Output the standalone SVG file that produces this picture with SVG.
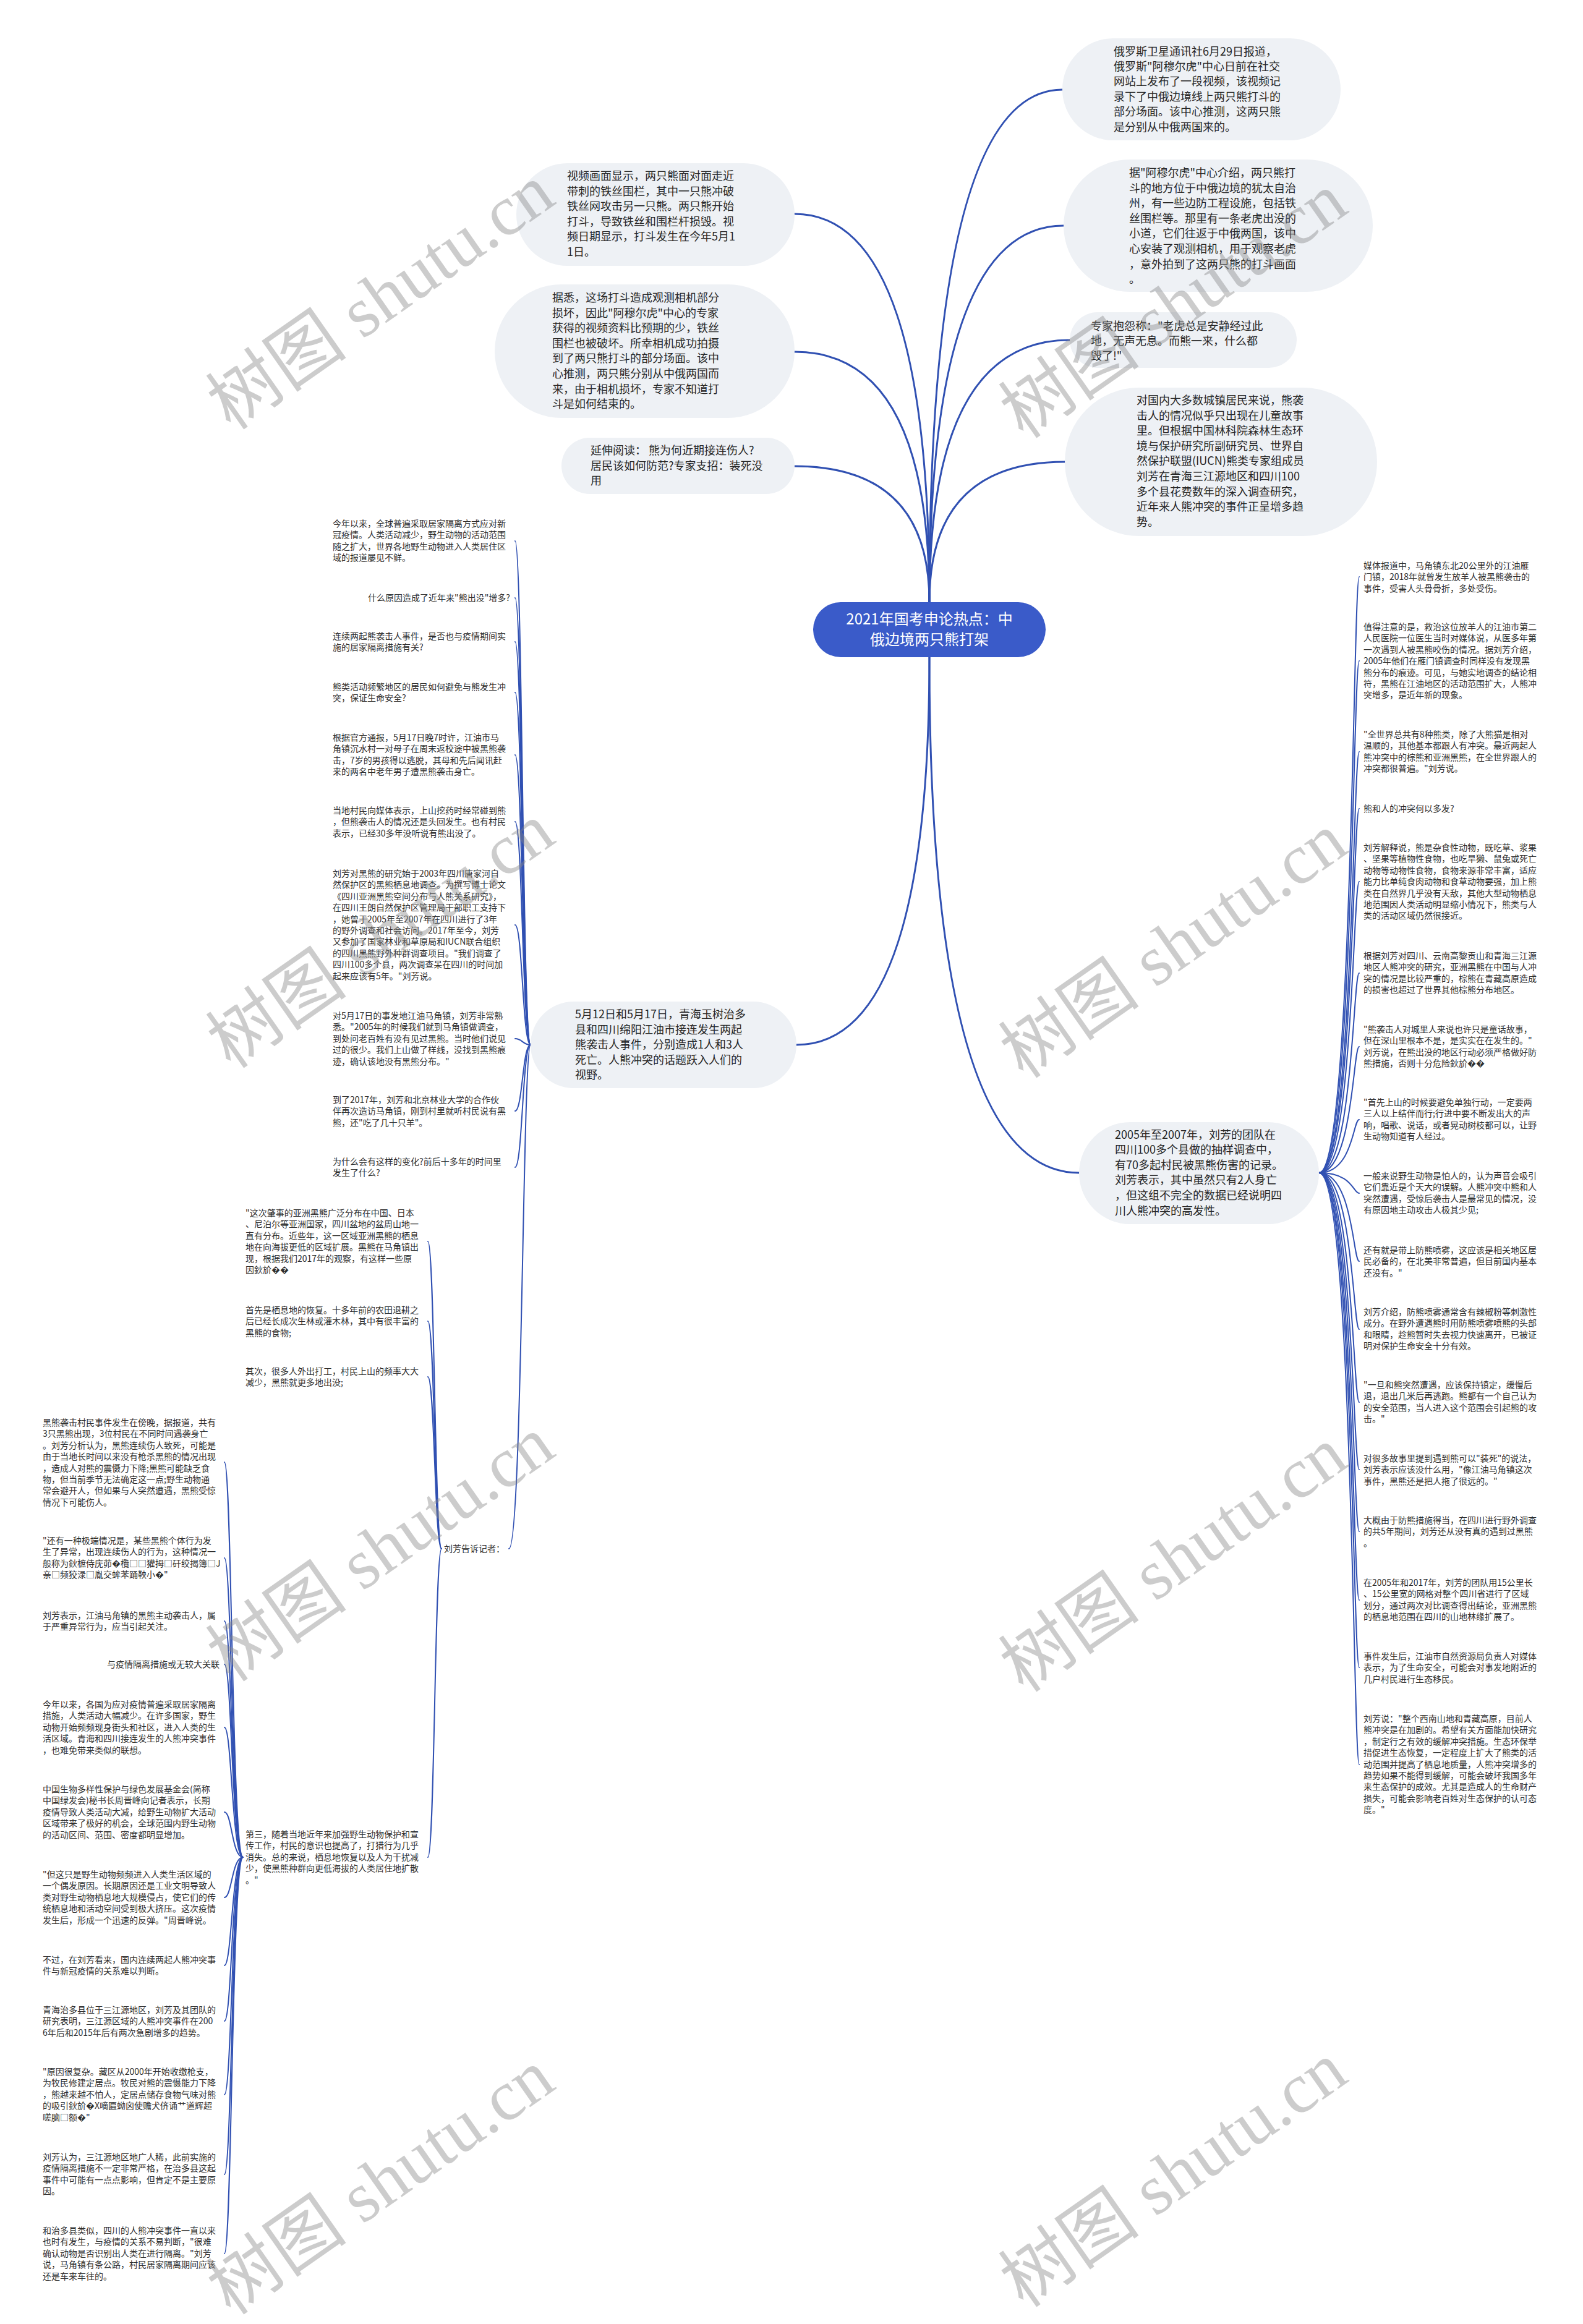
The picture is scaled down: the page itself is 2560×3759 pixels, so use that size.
<svg xmlns="http://www.w3.org/2000/svg" width="2560" height="3759" viewBox="0 0 2560 3759">
<style>
.bg{fill:#ffffff}
.b{fill:#eef1f5}
.root{fill:#3a5bc9}
.rt{font-family:"Noto Sans CJK SC","Noto Sans",sans-serif;font-size:24px;fill:#ffffff;text-anchor:middle}
.t{font-family:"Noto Sans CJK SC","Noto Sans",sans-serif;font-size:18px;fill:#262626}
.s{font-family:"Noto Sans CJK SC","Noto Sans",sans-serif;font-size:14px;fill:#2e2e2e}
.c1{fill:none;stroke:#3050b2;stroke-width:3;stroke-linecap:round}
.c2{fill:none;stroke:#3050b2;stroke-width:2;stroke-linecap:round}
.wm{font-family:"Liberation Serif","Noto Sans CJK SC",serif;font-size:115px;fill:#888888;opacity:0.42;text-anchor:middle}
</style>
<rect class="bg" x="0" y="0" width="2560" height="3759"/>

<g id="connectors">
<path class="c1" d="M1503,974 Q1503,145 1718,145"/>
<path class="c1" d="M1503,974 Q1503,365 1720,365"/>
<path class="c1" d="M1503,974 Q1503,550 1730,550"/>
<path class="c1" d="M1503,974 Q1503,747 1722,747"/>
<path class="c1" d="M1503,974 Q1503,346 1285,346"/>
<path class="c1" d="M1503,974 Q1503,569 1285,569"/>
<path class="c1" d="M1503,974 Q1503,754 1285,754"/>
<path class="c1" d="M1503,1063 Q1503,1690 1288,1690"/>
<path class="c1" d="M1503,1063 Q1503,1897 1745,1897"/>
<path class="c2" d="M858,1690 C845,1690 845,875 833,875"/>
<path class="c2" d="M858,1690 C845,1690 845,967 833,967"/>
<path class="c2" d="M858,1690 C845,1690 845,1038 833,1038"/>
<path class="c2" d="M858,1690 C845,1690 845,1120 833,1120"/>
<path class="c2" d="M858,1690 C845,1690 845,1221 833,1221"/>
<path class="c2" d="M858,1690 C845,1690 845,1329 833,1329"/>
<path class="c2" d="M858,1690 C845,1690 845,1496 833,1496"/>
<path class="c2" d="M858,1690 C845,1690 845,1680 833,1680"/>
<path class="c2" d="M858,1690 C845,1690 845,1797 833,1797"/>
<path class="c2" d="M858,1690 C845,1690 845,1888 833,1888"/>
<path class="c2" d="M858,1690 C845,1690 845,2505 823,2505"/>
<path class="c2" d="M714,2505 C703,2505 703,2008 692,2008"/>
<path class="c2" d="M714,2505 C703,2505 703,2137 692,2137"/>
<path class="c2" d="M714,2505 C703,2505 703,2227 692,2227"/>
<path class="c2" d="M714,2505 C703,2505 703,3004 692,3004"/>
<path class="c2" d="M393,3004 C375,3004 375,2365 363,2365"/>
<path class="c2" d="M393,3004 C375,3004 375,2520 363,2520"/>
<path class="c2" d="M393,3004 C375,3004 375,2622 363,2622"/>
<path class="c2" d="M393,3004 C375,3004 375,2692 363,2692"/>
<path class="c2" d="M393,3004 C375,3004 375,2794 363,2794"/>
<path class="c2" d="M393,3004 C375,3004 375,2931 363,2931"/>
<path class="c2" d="M393,3004 C375,3004 375,3069 363,3069"/>
<path class="c2" d="M393,3004 C375,3004 375,3179 363,3179"/>
<path class="c2" d="M393,3004 C375,3004 375,3269 363,3269"/>
<path class="c2" d="M393,3004 C375,3004 375,3388 363,3388"/>
<path class="c2" d="M393,3004 C375,3004 375,3517 363,3517"/>
<path class="c2" d="M393,3004 C375,3004 375,3645 363,3645"/>
<path class="c2" d="M2133,1897 C2188,1897 2188,933 2198,933"/>
<path class="c2" d="M2133,1897 C2188,1897 2188,1069 2198,1069"/>
<path class="c2" d="M2133,1897 C2188,1897 2188,1216 2198,1216"/>
<path class="c2" d="M2133,1897 C2188,1897 2188,1308 2198,1308"/>
<path class="c2" d="M2133,1897 C2188,1897 2188,1426 2198,1426"/>
<path class="c2" d="M2133,1897 C2188,1897 2188,1574 2198,1574"/>
<path class="c2" d="M2133,1897 C2188,1897 2188,1693 2198,1693"/>
<path class="c2" d="M2133,1897 C2188,1897 2188,1811 2198,1811"/>
<path class="c2" d="M2133,1897 C2188,1897 2188,1930 2198,1930"/>
<path class="c2" d="M2133,1897 C2188,1897 2188,2040 2198,2040"/>
<path class="c2" d="M2133,1897 C2188,1897 2188,2150 2198,2150"/>
<path class="c2" d="M2133,1897 C2188,1897 2188,2268 2198,2268"/>
<path class="c2" d="M2133,1897 C2188,1897 2188,2377 2198,2377"/>
<path class="c2" d="M2133,1897 C2188,1897 2188,2477 2198,2477"/>
<path class="c2" d="M2133,1897 C2188,1897 2188,2588 2198,2588"/>
<path class="c2" d="M2133,1897 C2188,1897 2188,2697 2198,2697"/>
<path class="c2" d="M2133,1897 C2188,1897 2188,2854 2198,2854"/>
</g>

<g id="root">
<rect class="root" x="1315" y="974" width="376" height="89" rx="44.5"/>
<text class="rt" x="1503" y="1010">2021年国考申论热点：中</text>
<text class="rt" x="1503" y="1043">俄边境两只熊打架</text>
</g>

<g id="r1">
<rect class="b" x="1718" y="62" width="450" height="165" rx="82.5"/>
<text class="t" x="1801" y="89.5"><tspan x="1801">俄罗斯卫星通讯社6月29日报道，</tspan><tspan x="1801" dy="24.4">俄罗斯"阿穆尔虎"中心日前在社交</tspan><tspan x="1801" dy="24.4">网站上发布了一段视频，该视频记</tspan><tspan x="1801" dy="24.4">录下了中俄边境线上两只熊打斗的</tspan><tspan x="1801" dy="24.4">部分场面。该中心推测，这两只熊</tspan><tspan x="1801" dy="24.4">是分别从中俄两国来的。</tspan></text>
</g>

<g id="r2">
<rect class="b" x="1720" y="258" width="500" height="214" rx="107"/>
<text class="t" x="1826" y="286"><tspan x="1826">据"阿穆尔虎"中心介绍，两只熊打</tspan><tspan x="1826" dy="24.6">斗的地方位于中俄边境的犹太自治</tspan><tspan x="1826" dy="24.6">州，有一些边防工程设施，包括铁</tspan><tspan x="1826" dy="24.6">丝围栏等。那里有一条老虎出没的</tspan><tspan x="1826" dy="24.6">小道，它们往返于中俄两国，该中</tspan><tspan x="1826" dy="24.6">心安装了观测相机，用于观察老虎</tspan><tspan x="1826" dy="24.6">，意外拍到了这两只熊的打斗画面</tspan><tspan x="1826" dy="24.6">。</tspan></text>
</g>

<g id="r3">
<rect class="b" x="1730" y="505" width="367" height="90" rx="45"/>
<text class="t" x="1764" y="533.5"><tspan x="1764">专家抱怨称："老虎总是安静经过此</tspan><tspan x="1764" dy="24.4">地，无声无息。而熊一来，什么都</tspan><tspan x="1764" dy="24.4">毁了!"</tspan></text>
</g>

<g id="r4">
<rect class="b" x="1722" y="627" width="505" height="240" rx="120"/>
<text class="t" x="1838" y="654"><tspan x="1838">对国内大多数城镇居民来说，熊袭</tspan><tspan x="1838" dy="24.6">击人的情况似乎只出现在儿童故事</tspan><tspan x="1838" dy="24.6">里。但根据中国林科院森林生态环</tspan><tspan x="1838" dy="24.6">境与保护研究所副研究员、世界自</tspan><tspan x="1838" dy="24.6">然保护联盟(IUCN)熊类专家组成员</tspan><tspan x="1838" dy="24.6">刘芳在青海三江源地区和四川100</tspan><tspan x="1838" dy="24.6">多个县花费数年的深入调查研究，</tspan><tspan x="1838" dy="24.6">近年来人熊冲突的事件正呈增多趋</tspan><tspan x="1838" dy="24.6">势。</tspan></text>
</g>

<g id="l1">
<rect class="b" x="835" y="264" width="450" height="166" rx="83"/>
<text class="t" x="917" y="291"><tspan x="917">视频画面显示，两只熊面对面走近</tspan><tspan x="917" dy="24.6">带刺的铁丝围栏，其中一只熊冲破</tspan><tspan x="917" dy="24.6">铁丝网攻击另一只熊。两只熊开始</tspan><tspan x="917" dy="24.6">打斗，导致铁丝和围栏杆损毁。视</tspan><tspan x="917" dy="24.6">频日期显示，打斗发生在今年5月1</tspan><tspan x="917" dy="24.6">1日。</tspan></text>
</g>

<g id="l2">
<rect class="b" x="800" y="460" width="485" height="216" rx="108"/>
<text class="t" x="893" y="488"><tspan x="893">据悉，这场打斗造成观测相机部分</tspan><tspan x="893" dy="24.6">损坏，因此"阿穆尔虎"中心的专家</tspan><tspan x="893" dy="24.6">获得的视频资料比预期的少，铁丝</tspan><tspan x="893" dy="24.6">围栏也被破坏。所幸相机成功拍摄</tspan><tspan x="893" dy="24.6">到了两只熊打斗的部分场面。该中</tspan><tspan x="893" dy="24.6">心推测，两只熊分别从中俄两国而</tspan><tspan x="893" dy="24.6">来，由于相机损坏，专家不知道打</tspan><tspan x="893" dy="24.6">斗是如何结束的。</tspan></text>
</g>

<g id="l3">
<rect class="b" x="908" y="708" width="377" height="91" rx="45.5"/>
<text class="t" x="955" y="735"><tspan x="955">延伸阅读： 熊为何近期接连伤人?</tspan><tspan x="955" dy="24.6">居民该如何防范?专家支招：装死没</tspan><tspan x="955" dy="24.6">用</tspan></text>
</g>

<g id="b1">
<rect class="b" x="858" y="1620" width="430" height="140" rx="70"/>
<text class="t" x="930" y="1647"><tspan x="930">5月12日和5月17日，青海玉树治多</tspan><tspan x="930" dy="24.6">县和四川绵阳江油市接连发生两起</tspan><tspan x="930" dy="24.6">熊袭击人事件，分别造成1人和3人</tspan><tspan x="930" dy="24.6">死亡。人熊冲突的话题跃入人们的</tspan><tspan x="930" dy="24.6">视野。</tspan></text>
</g>

<g id="b2">
<rect class="b" x="1745" y="1815" width="388" height="165" rx="82.5"/>
<text class="t" x="1803" y="1841.5"><tspan x="1803">2005年至2007年，刘芳的团队在</tspan><tspan x="1803" dy="24.6">四川100多个县做的抽样调查中，</tspan><tspan x="1803" dy="24.6">有70多起村民被黑熊伤害的记录。</tspan><tspan x="1803" dy="24.6">刘芳表示，其中虽然只有2人身亡</tspan><tspan x="1803" dy="24.6">，但这组不完全的数据已经说明四</tspan><tspan x="1803" dy="24.6">川人熊冲突的高发性。</tspan></text>
</g>

<g id="n-left-1"><text class="s" x="538" y="852"><tspan x="538">今年以来，全球普遍采取居家隔离方式应对新</tspan><tspan x="538" dy="18.4">冠疫情。人类活动减少，野生动物的活动范围</tspan><tspan x="538" dy="18.4">随之扩大，世界各地野生动物进入人类居住区</tspan><tspan x="538" dy="18.4">域的报道屡见不鲜。</tspan></text></g>
<g id="n-left-2"><text class="s" x="825" y="972" text-anchor="end">什么原因造成了近年来"熊出没"增多?</text></g>
<g id="n-left-3"><text class="s" x="538" y="1034"><tspan x="538">连续两起熊袭击人事件，是否也与疫情期间实</tspan><tspan x="538" dy="18.4">施的居家隔离措施有关?</tspan></text></g>
<g id="n-left-4"><text class="s" x="538" y="1116"><tspan x="538">熊类活动频繁地区的居民如何避免与熊发生冲</tspan><tspan x="538" dy="18.4">突，保证生命安全?</tspan></text></g>
<g id="n-left-5"><text class="s" x="538" y="1198"><tspan x="538">根据官方通报，5月17日晚7时许，江油市马</tspan><tspan x="538" dy="18.4">角镇沉水村一对母子在周末返校途中被黑熊袭</tspan><tspan x="538" dy="18.4">击，7岁的男孩得以逃脱，其母和先后闻讯赶</tspan><tspan x="538" dy="18.4">来的两名中老年男子遭黑熊袭击身亡。</tspan></text></g>
<g id="n-left-6"><text class="s" x="538" y="1316"><tspan x="538">当地村民向媒体表示，上山挖药时经常碰到熊</tspan><tspan x="538" dy="18.4">，但熊袭击人的情况还是头回发生。也有村民</tspan><tspan x="538" dy="18.4">表示，已经30多年没听说有熊出没了。</tspan></text></g>
<g id="n-left-7"><text class="s" x="538" y="1418"><tspan x="538">刘芳对黑熊的研究始于2003年四川唐家河自</tspan><tspan x="538" dy="18.4">然保护区的黑熊栖息地调查。为撰写博士论文</tspan><tspan x="538" dy="18.4">《四川亚洲黑熊空间分布与人熊关系研究》，</tspan><tspan x="538" dy="18.4">在四川王朗自然保护区管理局干部职工支持下</tspan><tspan x="538" dy="18.4">，她曾于2005年至2007年在四川进行了3年</tspan><tspan x="538" dy="18.4">的野外调查和社会访问。2017年至今，刘芳</tspan><tspan x="538" dy="18.4">又参加了国家林业和草原局和IUCN联合组织</tspan><tspan x="538" dy="18.4">的四川黑熊野外种群调查项目。"我们调查了</tspan><tspan x="538" dy="18.4">四川100多个县，两次调查呆在四川的时间加</tspan><tspan x="538" dy="18.4">起来应该有5年。"刘芳说。</tspan></text></g>
<g id="n-left-8"><text class="s" x="538" y="1648"><tspan x="538">对5月17日的事发地江油马角镇，刘芳非常熟</tspan><tspan x="538" dy="18.4">悉。"2005年的时候我们就到马角镇做调查，</tspan><tspan x="538" dy="18.4">到处问老百姓有没有见过黑熊。当时他们说见</tspan><tspan x="538" dy="18.4">过的很少。我们上山做了样线，没找到黑熊痕</tspan><tspan x="538" dy="18.4">迹，确认该地没有黑熊分布。"</tspan></text></g>
<g id="n-left-9"><text class="s" x="538" y="1784"><tspan x="538">到了2017年，刘芳和北京林业大学的合作伙</tspan><tspan x="538" dy="18.4">伴再次造访马角镇，刚到村里就听村民说有黑</tspan><tspan x="538" dy="18.4">熊，还"吃了几十只羊"。</tspan></text></g>
<g id="n-left-10"><text class="s" x="538" y="1884"><tspan x="538">为什么会有这样的变化?前后十多年的时间里</tspan><tspan x="538" dy="18.4">发生了什么?</tspan></text></g>
<g id="n-left-11"><text class="s" x="816" y="2510" text-anchor="end">刘芳告诉记者：</text></g>

<g id="n-mid-1"><text class="s" x="397" y="1967"><tspan x="397">"这次肇事的亚洲黑熊广泛分布在中国、日本</tspan><tspan x="397" dy="18.4">、尼泊尔等亚洲国家，四川盆地的盆周山地一</tspan><tspan x="397" dy="18.4">直有分布。近些年，这一区域亚洲黑熊的栖息</tspan><tspan x="397" dy="18.4">地在向海拔更低的区域扩展。黑熊在马角镇出</tspan><tspan x="397" dy="18.4">现，根据我们2017年的观察，有这样一些原</tspan><tspan x="397" dy="18.4">因鈥斺��</tspan></text></g>
<g id="n-mid-2"><text class="s" x="397" y="2124"><tspan x="397">首先是栖息地的恢复。十多年前的农田退耕之</tspan><tspan x="397" dy="18.4">后已经长成次生林或灌木林，其中有很丰富的</tspan><tspan x="397" dy="18.4">黑熊的食物;</tspan></text></g>
<g id="n-mid-3"><text class="s" x="397" y="2223"><tspan x="397">其次，很多人外出打工，村民上山的频率大大</tspan><tspan x="397" dy="18.4">减少，黑熊就更多地出没;</tspan></text></g>
<g id="n-mid-4"><text class="s" x="397" y="2972"><tspan x="397">第三，随着当地近年来加强野生动物保护和宣</tspan><tspan x="397" dy="18.4">传工作，村民的意识也提高了，打猎行为几乎</tspan><tspan x="397" dy="18.4">消失。总的来说，栖息地恢复以及人为干扰减</tspan><tspan x="397" dy="18.4">少，使黑熊种群向更低海拔的人类居住地扩散</tspan><tspan x="397" dy="18.4">。"</tspan></text></g>

<g id="n-far-1"><text class="s" x="69" y="2306"><tspan x="69">黑熊袭击村民事件发生在傍晚，据报道，共有</tspan><tspan x="69" dy="18.4">3只黑熊出现，3位村民在不同时间遇袭身亡</tspan><tspan x="69" dy="18.4">。刘芳分析认为，黑熊连续伤人致死，可能是</tspan><tspan x="69" dy="18.4">由于当地长时间以来没有枪杀黑熊的情况出现</tspan><tspan x="69" dy="18.4">，造成人对熊的震慑力下降;黑熊可能缺乏食</tspan><tspan x="69" dy="18.4">物，但当前季节无法确定这一点;野生动物通</tspan><tspan x="69" dy="18.4">常会避开人，但如果与人突然遭遇，黑熊受惊</tspan><tspan x="69" dy="18.4">情况下可能伤人。</tspan></text></g>
<g id="n-far-2"><text class="s" x="69" y="2497"><tspan x="69">"还有一种极端情况是，某些黑熊个体行为发</tspan><tspan x="69" dy="18.4">生了异常，出现连续伤人的行为，这种情况一</tspan><tspan x="69" dy="18.4">般称为鈥樜侍庑茆�欖□□獾拇□矸绞揭簿□J</tspan><tspan x="69" dy="18.4">亲□频狡渌□胤交蛑苯踊鞅小�"</tspan></text></g>
<g id="n-far-3"><text class="s" x="69" y="2618"><tspan x="69">刘芳表示，江油马角镇的黑熊主动袭击人，属</tspan><tspan x="69" dy="18.4">于严重异常行为，应当引起关注。</tspan></text></g>
<g id="n-far-4"><text class="s" x="355" y="2697" text-anchor="end">与疫情隔离措施或无较大关联</text></g>
<g id="n-far-5"><text class="s" x="69" y="2762"><tspan x="69">今年以来，各国为应对疫情普遍采取居家隔离</tspan><tspan x="69" dy="18.4">措施，人类活动大幅减少。在许多国家，野生</tspan><tspan x="69" dy="18.4">动物开始频频现身街头和社区，进入人类的生</tspan><tspan x="69" dy="18.4">活区域。青海和四川接连发生的人熊冲突事件</tspan><tspan x="69" dy="18.4">，也难免带来类似的联想。</tspan></text></g>
<g id="n-far-6"><text class="s" x="69" y="2899"><tspan x="69">中国生物多样性保护与绿色发展基金会(简称</tspan><tspan x="69" dy="18.4">中国绿发会)秘书长周晋峰向记者表示，长期</tspan><tspan x="69" dy="18.4">疫情导致人类活动大减，给野生动物扩大活动</tspan><tspan x="69" dy="18.4">区域带来了极好的机会，全球范围内野生动物</tspan><tspan x="69" dy="18.4">的活动区间、范围、密度都明显增加。</tspan></text></g>
<g id="n-far-7"><text class="s" x="69" y="3037"><tspan x="69">"但这只是野生动物频频进入人类生活区域的</tspan><tspan x="69" dy="18.4">一个偶发原因。长期原因还是工业文明导致人</tspan><tspan x="69" dy="18.4">类对野生动物栖息地大规模侵占，使它们的传</tspan><tspan x="69" dy="18.4">统栖息地和活动空间受到极大挤压。这次疫情</tspan><tspan x="69" dy="18.4">发生后，形成一个迅速的反弹。"周晋峰说。</tspan></text></g>
<g id="n-far-8"><text class="s" x="69" y="3175"><tspan x="69">不过，在刘芳看来，国内连续两起人熊冲突事</tspan><tspan x="69" dy="18.4">件与新冠疫情的关系难以判断。</tspan></text></g>
<g id="n-far-9"><text class="s" x="69" y="3256"><tspan x="69">青海治多县位于三江源地区，刘芳及其团队的</tspan><tspan x="69" dy="18.4">研究表明，三江源区域的人熊冲突事件在200</tspan><tspan x="69" dy="18.4">6年后和2015年后有两次急剧增多的趋势。</tspan></text></g>
<g id="n-far-10"><text class="s" x="69" y="3356"><tspan x="69">"原因很复杂。藏区从2000年开始收缴枪支，</tspan><tspan x="69" dy="18.4">为牧民修建定居点。牧民对熊的震慑能力下降</tspan><tspan x="69" dy="18.4">，熊越来越不怕人，定居点储存食物气味对熊</tspan><tspan x="69" dy="18.4">的吸引鈥斺�X嘀匾蚴囟使赡犬侪诵艹道辉超</tspan><tspan x="69" dy="18.4">嗟脑□额�"</tspan></text></g>
<g id="n-far-11"><text class="s" x="69" y="3494"><tspan x="69">刘芳认为，三江源地区地广人稀，此前实施的</tspan><tspan x="69" dy="18.4">疫情隔离措施不一定非常严格，在治多县这起</tspan><tspan x="69" dy="18.4">事件中可能有一点点影响，但肯定不是主要原</tspan><tspan x="69" dy="18.4">因。</tspan></text></g>
<g id="n-far-12"><text class="s" x="69" y="3613"><tspan x="69">和治多县类似，四川的人熊冲突事件一直以来</tspan><tspan x="69" dy="18.4">也时有发生，与疫情的关系不易判断，"很难</tspan><tspan x="69" dy="18.4">确认动物是否识别出人类在进行隔离。"刘芳</tspan><tspan x="69" dy="18.4">说，马角镇有条公路，村民居家隔离期间应该</tspan><tspan x="69" dy="18.4">还是车来车往的。</tspan></text></g>

<g id="n-right-1"><text class="s" x="2205" y="920"><tspan x="2205">媒体报道中，马角镇东北20公里外的江油雁</tspan><tspan x="2205" dy="18.4">门镇，2018年就曾发生放羊人被黑熊袭击的</tspan><tspan x="2205" dy="18.4">事件，受害人头骨骨折，多处受伤。</tspan></text></g>
<g id="n-right-2"><text class="s" x="2205" y="1019"><tspan x="2205">值得注意的是，救治这位放羊人的江油市第二</tspan><tspan x="2205" dy="18.4">人民医院一位医生当时对媒体说，从医多年第</tspan><tspan x="2205" dy="18.4">一次遇到人被黑熊咬伤的情况。据刘芳介绍，</tspan><tspan x="2205" dy="18.4">2005年他们在雁门镇调查时同样没有发现黑</tspan><tspan x="2205" dy="18.4">熊分布的痕迹。可见，与她实地调查的结论相</tspan><tspan x="2205" dy="18.4">符，黑熊在江油地区的活动范围扩大，人熊冲</tspan><tspan x="2205" dy="18.4">突增多，是近年新的现象。</tspan></text></g>
<g id="n-right-3"><text class="s" x="2205" y="1193"><tspan x="2205">"全世界总共有8种熊类，除了大熊猫是相对</tspan><tspan x="2205" dy="18.4">温顺的，其他基本都跟人有冲突。最近两起人</tspan><tspan x="2205" dy="18.4">熊冲突中的棕熊和亚洲黑熊，在全世界跟人的</tspan><tspan x="2205" dy="18.4">冲突都很普遍。"刘芳说。</tspan></text></g>
<g id="n-right-4"><text class="s" x="2205" y="1313">熊和人的冲突何以多发?</text></g>
<g id="n-right-5"><text class="s" x="2205" y="1376"><tspan x="2205">刘芳解释说，熊是杂食性动物，既吃草、浆果</tspan><tspan x="2205" dy="18.4">、坚果等植物性食物，也吃旱獭、鼠兔或死亡</tspan><tspan x="2205" dy="18.4">动物等动物性食物，食物来源非常丰富，适应</tspan><tspan x="2205" dy="18.4">能力比单纯食肉动物和食草动物要强，加上熊</tspan><tspan x="2205" dy="18.4">类在自然界几乎没有天敌，其他大型动物栖息</tspan><tspan x="2205" dy="18.4">地范围因人类活动明显缩小情况下，熊类与人</tspan><tspan x="2205" dy="18.4">类的活动区域仍然很接近。</tspan></text></g>
<g id="n-right-6"><text class="s" x="2205" y="1551"><tspan x="2205">根据刘芳对四川、云南高黎贡山和青海三江源</tspan><tspan x="2205" dy="18.4">地区人熊冲突的研究，亚洲黑熊在中国与人冲</tspan><tspan x="2205" dy="18.4">突的情况是比较严重的，棕熊在青藏高原造成</tspan><tspan x="2205" dy="18.4">的损害也超过了世界其他棕熊分布地区。</tspan></text></g>
<g id="n-right-7"><text class="s" x="2205" y="1670"><tspan x="2205">"熊袭击人对城里人来说也许只是童话故事，</tspan><tspan x="2205" dy="18.4">但在深山里根本不是，是实实在在发生的。"</tspan><tspan x="2205" dy="18.4">刘芳说，在熊出没的地区行动必须严格做好防</tspan><tspan x="2205" dy="18.4">熊措施，否则十分危险鈥斺��</tspan></text></g>
<g id="n-right-8"><text class="s" x="2205" y="1788"><tspan x="2205">"首先上山的时候要避免单独行动，一定要两</tspan><tspan x="2205" dy="18.4">三人以上结伴而行;行进中要不断发出大的声</tspan><tspan x="2205" dy="18.4">响，唱歌、说话，或者晃动树枝都可以，让野</tspan><tspan x="2205" dy="18.4">生动物知道有人经过。</tspan></text></g>
<g id="n-right-9"><text class="s" x="2205" y="1907"><tspan x="2205">一般来说野生动物是怕人的，认为声音会吸引</tspan><tspan x="2205" dy="18.4">它们靠近是个天大的误解。人熊冲突中熊和人</tspan><tspan x="2205" dy="18.4">突然遭遇，受惊后袭击人是最常见的情况，没</tspan><tspan x="2205" dy="18.4">有原因地主动攻击人极其少见;</tspan></text></g>
<g id="n-right-10"><text class="s" x="2205" y="2027"><tspan x="2205">还有就是带上防熊喷雾，这应该是相关地区居</tspan><tspan x="2205" dy="18.4">民必备的，在北美非常普遍，但目前国内基本</tspan><tspan x="2205" dy="18.4">还没有。"</tspan></text></g>
<g id="n-right-11"><text class="s" x="2205" y="2127"><tspan x="2205">刘芳介绍，防熊喷雾通常含有辣椒粉等刺激性</tspan><tspan x="2205" dy="18.4">成分。在野外遭遇熊时用防熊喷雾喷熊的头部</tspan><tspan x="2205" dy="18.4">和眼睛，趁熊暂时失去视力快速离开，已被证</tspan><tspan x="2205" dy="18.4">明对保护生命安全十分有效。</tspan></text></g>
<g id="n-right-12"><text class="s" x="2205" y="2245"><tspan x="2205">"一旦和熊突然遭遇，应该保持镇定，缓慢后</tspan><tspan x="2205" dy="18.4">退，退出几米后再逃跑。熊都有一个自己认为</tspan><tspan x="2205" dy="18.4">的安全范围，当人进入这个范围会引起熊的攻</tspan><tspan x="2205" dy="18.4">击。"</tspan></text></g>
<g id="n-right-13"><text class="s" x="2205" y="2364"><tspan x="2205">对很多故事里提到遇到熊可以"装死"的说法，</tspan><tspan x="2205" dy="18.4">刘芳表示应该没什么用，"像江油马角镇这次</tspan><tspan x="2205" dy="18.4">事件，黑熊还是把人拖了很远的。"</tspan></text></g>
<g id="n-right-14"><text class="s" x="2205" y="2464"><tspan x="2205">大概由于防熊措施得当，在四川进行野外调查</tspan><tspan x="2205" dy="18.4">的共5年期间，刘芳还从没有真的遇到过黑熊</tspan><tspan x="2205" dy="18.4">。</tspan></text></g>
<g id="n-right-15"><text class="s" x="2205" y="2565"><tspan x="2205">在2005年和2017年，刘芳的团队用15公里长</tspan><tspan x="2205" dy="18.4">、15公里宽的网格对整个四川省进行了区域</tspan><tspan x="2205" dy="18.4">划分，通过两次对比调查得出结论，亚洲黑熊</tspan><tspan x="2205" dy="18.4">的栖息地范围在四川的山地林缘扩展了。</tspan></text></g>
<g id="n-right-16"><text class="s" x="2205" y="2684"><tspan x="2205">事件发生后，江油市自然资源局负责人对媒体</tspan><tspan x="2205" dy="18.4">表示，为了生命安全，可能会对事发地附近的</tspan><tspan x="2205" dy="18.4">几户村民进行生态移民。</tspan></text></g>
<g id="n-right-17"><text class="s" x="2205" y="2785"><tspan x="2205">刘芳说："整个西南山地和青藏高原，目前人</tspan><tspan x="2205" dy="18.4">熊冲突是在加剧的。希望有关方面能加快研究</tspan><tspan x="2205" dy="18.4">，制定行之有效的缓解冲突措施。生态环保举</tspan><tspan x="2205" dy="18.4">措促进生态恢复，一定程度上扩大了熊类的活</tspan><tspan x="2205" dy="18.4">动范围并提高了栖息地质量，人熊冲突增多的</tspan><tspan x="2205" dy="18.4">趋势如果不能得到缓解，可能会破坏我国多年</tspan><tspan x="2205" dy="18.4">来生态保护的成效。尤其是造成人的生命财产</tspan><tspan x="2205" dy="18.4">损失，可能会影响老百姓对生态保护的认可态</tspan><tspan x="2205" dy="18.4">度。"</tspan></text></g>

<g id="watermarks">
<text class="wm" x="615" y="520" transform="rotate(-35 615 480)">树图 shutu.cn</text>
<text class="wm" x="1897" y="534" transform="rotate(-35 1897 494)">树图 shutu.cn</text>
<text class="wm" x="615" y="1553" transform="rotate(-35 615 1513)">树图 shutu.cn</text>
<text class="wm" x="1897" y="1569" transform="rotate(-35 1897 1529)">树图 shutu.cn</text>
<text class="wm" x="615" y="2545" transform="rotate(-35 615 2505)">树图 shutu.cn</text>
<text class="wm" x="1897" y="2562" transform="rotate(-35 1897 2522)">树图 shutu.cn</text>
<text class="wm" x="615" y="3569" transform="rotate(-35 615 3529)">树图 shutu.cn</text>
<text class="wm" x="1897" y="3557" transform="rotate(-35 1897 3517)">树图 shutu.cn</text>
</g>
</svg>
